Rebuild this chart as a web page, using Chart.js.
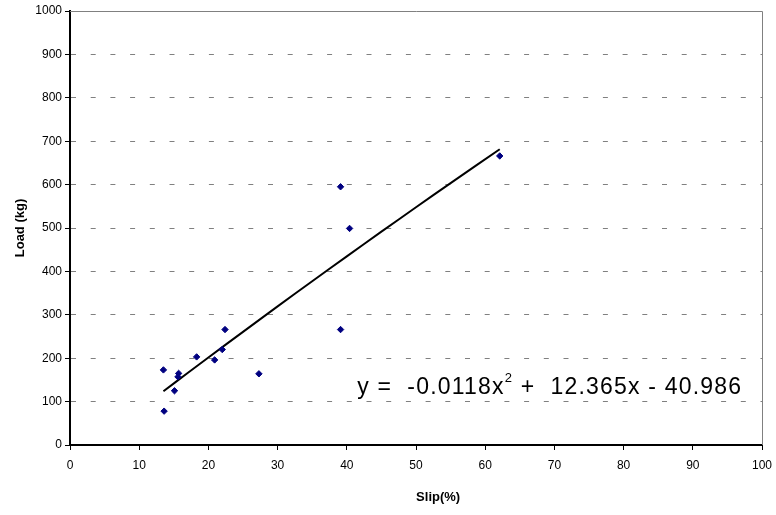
<!DOCTYPE html>
<html>
<head>
<meta charset="utf-8">
<script src="https://cdn.jsdelivr.net/npm/chart.js@4/dist/chart.umd.min.js"></script>
<style>
  html, body { margin: 0; padding: 0; background: #fff; }
  #wrap { width: 776px; height: 515px; position: relative; }
</style>
</head>
<body>
<div id="wrap"><canvas id="slipChart"></canvas></div>
<script>
const slipPct = [13.5, 13.6, 15.1, 15.7, 15.6, 18.3, 20.9, 22.0, 22.4, 27.3, 39.1, 39.1, 40.4, 62.1];
const loadKg  = [173, 78, 125, 165, 157, 203, 196, 220, 266, 164, 266, 595, 499, 666];

// Trendline coefficients, as printed on the chart (y = a x^2 + b x + c)
const trendCoef = [-0.0118, 12.365, -40.986];
const trendX = [13.5, 17, 20, 25, 30, 35, 40, 45, 50, 55, 62.1];

const xTicks = [0, 10, 20, 30, 40, 50, 60, 70, 80, 90, 100];
const yTicks = [0, 100, 200, 300, 400, 500, 600, 700, 800, 900, 1000];

const FONT = '"Liberation Sans", Arial, sans-serif';

const trendPoints = trendX.map(x => ({
  x: x,
  y: trendCoef[0] * x * x + trendCoef[1] * x + trendCoef[2]
}));

// top + right frame of the plot area, equation text and x-axis title
const framePlugin = {
  id: 'frame',
  beforeDatasetsDraw(chart) {
    const { ctx, chartArea: a } = chart;
    ctx.save();
    ctx.strokeStyle = '#808080';
    ctx.lineWidth = 1;
    ctx.beginPath();
    ctx.moveTo(a.left, a.top + 0.5);
    ctx.lineTo(a.right + 0.5, a.top + 0.5);
    ctx.lineTo(a.right + 0.5, a.bottom);
    ctx.stroke();
    ctx.restore();
  },
  afterDatasetsDraw(chart) {
    const { ctx, scales } = chart;
    const x = scales.x.getPixelForValue(41.5);
    const y = scales.y.getPixelForValue(131);
    ctx.save();
    ctx.fillStyle = '#000';
    ctx.textBaseline = 'middle';
    ctx.letterSpacing = '1.2px';
    let cx = x;
    const part = (txt, dy, size) => {
      ctx.font = size + 'px ' + FONT;
      ctx.fillText(txt, cx, y + dy);
      cx += ctx.measureText(txt).width;
    };
    part('y =  -0.0118x', 0, 23);
    part('2', -10, 13);
    part(' +  12.365x - 40.986', 0, 23);
    ctx.restore();

    // x-axis title (sits a bit right of the plot centre in the original)
    ctx.save();
    ctx.fillStyle = '#000';
    ctx.font = 'bold 13px ' + FONT;
    ctx.textAlign = 'center';
    ctx.textBaseline = 'middle';
    ctx.fillText('Slip(%)', scales.x.getPixelForValue(53.2), 497);
    ctx.restore();
  }
};

new Chart(document.getElementById('slipChart'), {
  type: 'scatter',
  data: {
    datasets: [
      {
        label: 'Load',
        data: slipPct.map((s, i) => ({ x: s, y: loadKg[i] })),
        pointStyle: 'rectRot',
        pointRadius: 3.2,
        backgroundColor: '#000080',
        borderColor: '#000080',
        borderWidth: 1,
        order: 1
      },
      {
        label: 'Trend',
        type: 'line',
        data: trendPoints,
        borderColor: '#000',
        borderWidth: 2,
        pointRadius: 0,
        tension: 0.4,
        fill: false,
        order: 2
      }
    ]
  },
  options: {
    responsive: true,
    maintainAspectRatio: false,
    animation: false,
    layout: { padding: { top: 11, right: 14, bottom: 0, left: 0 } },
    plugins: {
      legend: { display: false },
      tooltip: { enabled: false }
    },
    scales: {
      x: {
        type: 'linear',
        min: 0,
        max: 100,
        afterBuildTicks: s => { s.ticks = xTicks.map(v => ({ value: v })); },
        afterFit: s => { s.height = 70; s.paddingRight = 0; },
        grid: {
          drawOnChartArea: false,
          drawTicks: true,
          tickLength: 5,
          tickColor: '#000',
          tickWidth: 1
        },
        border: { color: '#000', width: 2 },
        ticks: {
          color: '#000',
          font: { family: FONT, size: 12 },
          padding: 8,
          maxRotation: 0
        }
      },
      y: {
        type: 'linear',
        min: 0,
        max: 1000,
        afterBuildTicks: s => { s.ticks = yTicks.map(v => ({ value: v })); },
        afterFit: s => { s.width = 70; },
        grid: {
          color: '#808080',
          lineWidth: 1,
          drawTicks: true,
          tickLength: 5,
          tickColor: '#000',
          tickWidth: 1,
          tickBorderDash: []
        },
        border: { color: '#000', width: 2, dash: [5, 14.7] },
        ticks: {
          color: '#000',
          font: { family: FONT, size: 12 },
          padding: 3,
          callback: v => String(v)
        },
        title: {
          display: true,
          text: 'Load (kg)',
          color: '#000',
          font: { family: FONT, size: 13, weight: 'bold' },
          padding: { top: 13, bottom: 0 }
        }
      }
    }
  },
  plugins: [framePlugin]
});
</script>
</body>
</html>
